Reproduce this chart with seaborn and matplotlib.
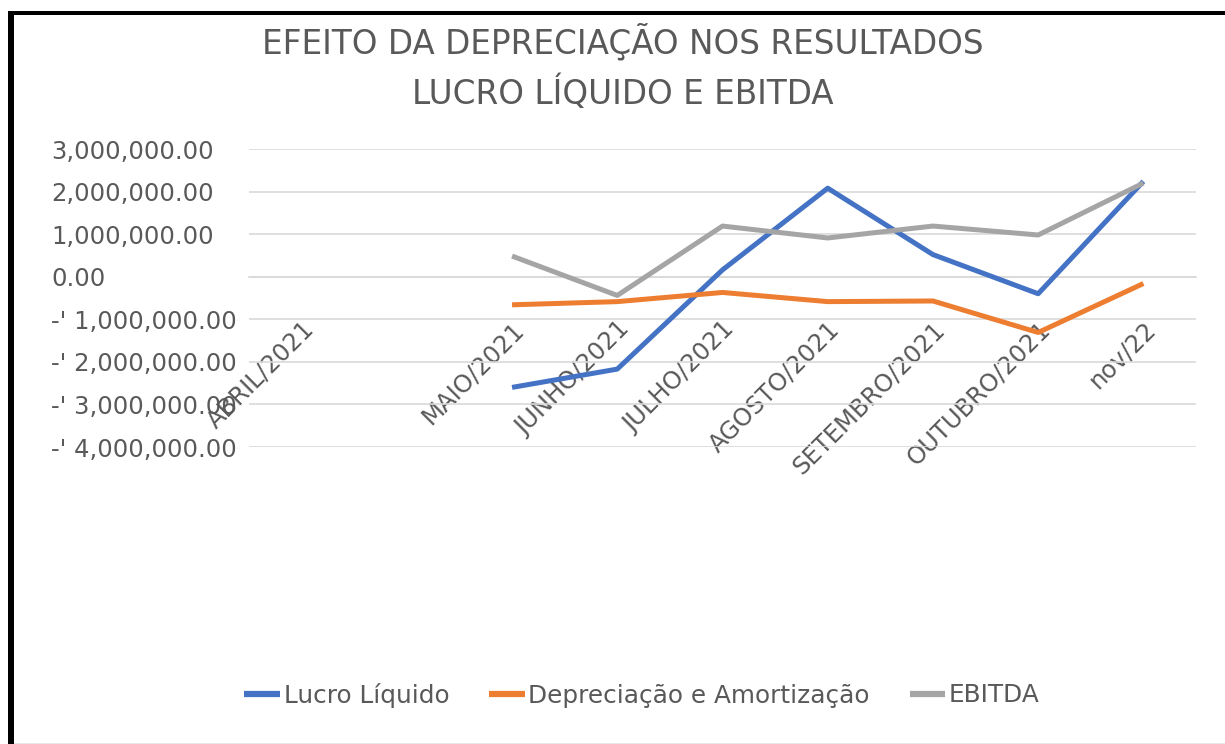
import numpy as np
import pandas as pd
import matplotlib
matplotlib.use("Agg")
import matplotlib.pyplot as plt
from matplotlib.patches import Rectangle
from matplotlib.ticker import FuncFormatter
import seaborn as sns

# ---------------- data ----------------
categorias = ["ABRIL/2021", "", "MAIO/2021", "JUNHO/2021", "JULHO/2021",
              "AGOSTO/2021", "SETEMBRO/2021", "OUTUBRO/2021", "nov/22"]
meses_dados = ["MAIO/2021", "JUNHO/2021", "JULHO/2021", "AGOSTO/2021",
               "SETEMBRO/2021", "OUTUBRO/2021", "nov/22"]
lucro_liquido = [-2600000, -2170000, 160000, 2080000, 520000, -400000, 2240000]
depreciacao = [-660000, -585000, -370000, -585000, -570000, -1310000, -160000]
ebitda = [485000, -440000, 1190000, 910000, 1190000, 980000, 2200000]
series_nomes = ["Lucro Líquido", "Depreciação e Amortização", "EBITDA"]
yticks_vals = [-4000000, -3000000, -2000000, -1000000, 0, 1000000, 2000000, 3000000]
titulo_1 = "EFEITO DA DEPRECIAÇÃO NOS RESULTADOS"
titulo_2 = "LUCRO LÍQUIDO E EBITDA"

cores = ["#4472C4", "#ED7D31", "#A5A5A5"]
texto_cor = "#595959"
grid_cor = "#D9D9D9"

rows = []
for nome, vals in zip(series_nomes, [lucro_liquido, depreciacao, ebitda]):
    for m, v in zip(meses_dados, vals):
        rows.append({"pos": categorias.index(m), "valor": v, "serie": nome})
df = pd.DataFrame(rows)

# ---------------- figure ----------------
sns.set_style("white")
plt.rcParams["font.family"] = ["DejaVu Sans"]

W, H = 1225, 744
fig = plt.figure(figsize=(W / 100, H / 100), dpi=100)
fig.patch.set_facecolor("white")

left_px, right_px, top_px, bot_px = 249, 1196, 149, 447
ax = fig.add_axes([left_px / W, 1 - bot_px / H, (right_px - left_px) / W, (bot_px - top_px) / H])

sns.lineplot(data=df, x="pos", y="valor", hue="serie", hue_order=series_nomes,
             palette=cores, linewidth=3.6, sort=False, legend=False, ax=ax)
for ln in ax.get_lines():
    ln.set_solid_joinstyle("round")
    ln.set_solid_capstyle("butt")

ax.set_xlim(-0.5, len(categorias) - 0.5)
ax.set_ylim(yticks_vals[0], yticks_vals[-1])
ax.set_xlabel("")
ax.set_ylabel("")

# grid
ax.set_yticks(yticks_vals)
ax.yaxis.grid(True, color=grid_cor, linewidth=1.2)
ax.xaxis.grid(False)
ax.set_axisbelow(True)

for s in ["top", "right", "left"]:
    ax.spines[s].set_visible(False)
ax.spines["bottom"].set_position(("data", 0))
ax.spines["bottom"].set_color(grid_cor)
ax.spines["bottom"].set_linewidth(1.2)
ax.spines["bottom"].set_zorder(0.5)

def fmt(v, pos=None):
    if v < 0:
        return "-' {:,.2f}".format(-v)
    return "{:,.2f}".format(v)

ax.yaxis.set_major_formatter(FuncFormatter(fmt))
ax.tick_params(axis="y", length=0, pad=(left_px - 51) * 0.72, labelsize=17.5, labelcolor=texto_cor)
for lbl in ax.get_yticklabels():
    lbl.set_horizontalalignment("left")

ax.set_xticks(range(len(categorias)))
ax.set_xticklabels(categorias, rotation=45, ha="right", rotation_mode="anchor")
ax.tick_params(axis="x", length=0, pad=29, labelsize=17.5, labelcolor=texto_cor)

# title
fig.text(623 / W, 1 - 53 / H, titulo_1, ha="center", va="baseline",
         fontsize=23.5, color=texto_cor)
fig.text(623 / W, 1 - 104 / H, titulo_2, ha="center", va="baseline",
         fontsize=23.5, color=texto_cor)

# legend
handles = ax.get_lines()[:3]
leg = fig.legend(handles, series_nomes, loc="center",
                 bbox_to_anchor=(642 / W, 1 - 695 / H), ncol=3, frameon=False,
                 fontsize=17.8, handlelength=1.45, handletextpad=0.15,
                 columnspacing=1.6)
for t in leg.get_texts():
    t.set_color(texto_cor)
for h in leg.legend_handles:
    h.set_linewidth(4.5)

# screenshot frame (black border top & left)
fig.patches.append(Rectangle((8 / W, 1 - 15 / H), 1 - 8 / W, 4 / H,
                             transform=fig.transFigure, facecolor="black",
                             edgecolor="none", zorder=10))
fig.patches.append(Rectangle((8 / W, 0), 6 / W, 1 - 11 / H,
                             transform=fig.transFigure, facecolor="black",
                             edgecolor="none", zorder=10))
fig.patches.append(Rectangle((14 / W, 0), 1 - 14 / W, 1.5 / H,
                             transform=fig.transFigure, facecolor="#E6E6E6",
                             edgecolor="none", zorder=10))

fig.savefig("out.png", dpi=100, facecolor="white")
